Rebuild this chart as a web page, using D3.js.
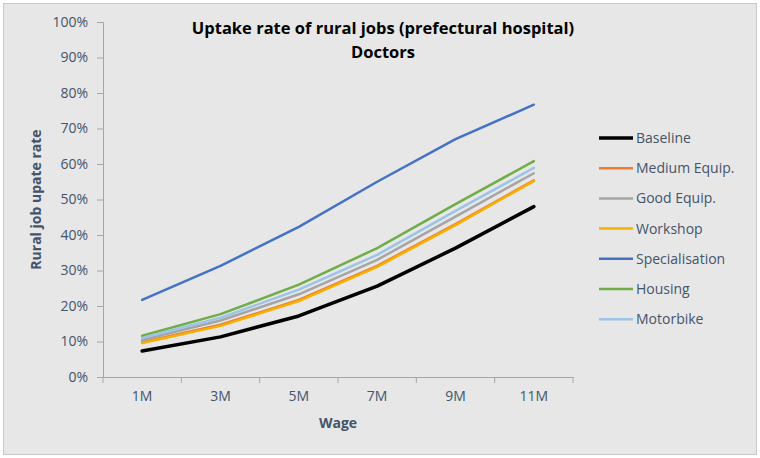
<!DOCTYPE html>
<html>
<head>
<meta charset="utf-8">
<script src="https://cdn.jsdelivr.net/npm/d3@7"></script>
<style>
  body { margin: 0; background: #fff; }
  text { font-family: "Open Sans", "Noto Sans", sans-serif; }
</style>
</head>
<body>
<svg id="chart" width="760" height="458"></svg>
<script>
// wage levels along x
const wages = ["1M", "3M", "5M", "7M", "9M", "11M"];

// uptake rates (%)
const baseline       = [7.3, 11.3, 17.2, 25.6, 36.3, 48.0];
const mediumEquip    = [9.8, 14.7, 21.7, 31.3, 43.1, 55.4];
const goodEquip      = [10.4, 15.9, 23.3, 33.0, 45.2, 57.4];
const workshop       = [9.6, 14.4, 21.4, 31.0, 42.8, 55.2];
const specialisation = [21.7, 31.3, 42.3, 55.0, 67.0, 76.7];
const housing        = [11.6, 17.7, 26.0, 36.3, 48.7, 60.8];
const motorbike      = [11.0, 16.7, 24.6, 34.4, 46.8, 58.9];

const yTicks = [0, 10, 20, 30, 40, 50, 60, 70, 80, 90, 100];

const series = [
  { name: "Baseline",       values: baseline,       color: "#000000", w: 3.5 },
  { name: "Medium Equip.",  values: mediumEquip,    color: "#ED7D31", w: 2.5 },
  { name: "Good Equip.",    values: goodEquip,      color: "#A5A5A5", w: 2.5 },
  { name: "Workshop",       values: workshop,       color: "#F5B000", w: 2.5 },
  { name: "Specialisation", values: specialisation, color: "#4472C4", w: 2.5 },
  { name: "Housing",        values: housing,        color: "#70AD47", w: 2.5 },
  { name: "Motorbike",      values: motorbike,      color: "#9DC3E6", w: 2.5 }
];

const svg = d3.select("#chart");
const labelColor = "#44546A";

// chart background + border
svg.append("rect")
  .attr("x", 3.5).attr("y", 3.5)
  .attr("width", 753).attr("height", 451)
  .attr("fill", "#E7E7E7")
  .attr("stroke", "#C8C8C8");

const plot = { left: 103, right: 573, top: 22, bottom: 377 };

const x = d3.scaleBand().domain(wages).range([plot.left, plot.right]);
const y = d3.scaleLinear().domain([0, 100]).range([plot.bottom, plot.top]);

// y axis
const yAxis = svg.append("g")
  .attr("transform", `translate(${plot.left},0)`)
  .call(d3.axisLeft(y).tickValues(yTicks).tickFormat(d => d + "%").tickSize(6).tickPadding(9));
yAxis.select(".domain").attr("stroke", "#A6A6A6");
yAxis.selectAll(".tick line").attr("stroke", "#A6A6A6");
yAxis.selectAll(".tick text")
  .attr("fill", labelColor)
  .style("font-size", "14px");

// x axis
const xAxis = svg.append("g")
  .attr("transform", `translate(0,${plot.bottom})`)
  .call(d3.axisBottom(x).tickSize(0).tickPadding(14));
xAxis.select(".domain").attr("stroke", "#A6A6A6");
xAxis.selectAll(".tick text")
  .attr("fill", labelColor)
  .style("font-size", "14px");
// ticks at band boundaries
xAxis.selectAll(".bound")
  .data(wages.concat(["end"]))
  .enter()
  .append("line")
  .attr("x1", (d, i) => i < wages.length ? x(d) : x.range()[1])
  .attr("x2", (d, i) => i < wages.length ? x(d) : x.range()[1])
  .attr("y1", 0).attr("y2", 6)
  .attr("stroke", "#A6A6A6");

// lines
const line = d3.line()
  .x((d, i) => x(wages[i]) + x.bandwidth() / 2)
  .y(d => y(d));

svg.append("g")
  .selectAll("path")
  .data(series)
  .enter()
  .append("path")
  .attr("d", d => line(d.values))
  .attr("fill", "none")
  .attr("stroke", d => d.color)
  .attr("stroke-width", d => d.w)
  .attr("stroke-linejoin", "round")
  .attr("stroke-linecap", "round");

// title
const title = svg.append("text")
  .attr("x", 383).attr("y", 34)
  .attr("text-anchor", "middle")
  .attr("fill", "#000")
  .style("font-size", "16.5px")
  .style("font-weight", "bold");
title.append("tspan").attr("x", 383).text("Uptake rate of rural jobs (prefectural hospital)");
title.append("tspan").attr("x", 383).attr("dy", 24).text("Doctors");

// axis titles
svg.append("text")
  .attr("transform", `translate(41,${(plot.top + plot.bottom) / 2}) rotate(-90)`)
  .attr("text-anchor", "middle")
  .attr("fill", labelColor)
  .style("font-size", "14px")
  .style("font-weight", "bold")
  .text("Rural job upate rate");

svg.append("text")
  .attr("x", (plot.left + plot.right) / 2)
  .attr("y", 428)
  .attr("text-anchor", "middle")
  .attr("fill", labelColor)
  .style("font-size", "14px")
  .style("font-weight", "bold")
  .text("Wage");

// legend
const legend = svg.append("g")
  .selectAll("g")
  .data(series)
  .enter()
  .append("g")
  .attr("transform", (d, i) => `translate(599,${138 + i * 30.2})`);

legend.append("line")
  .attr("x1", 0).attr("x2", 34)
  .attr("stroke", d => d.color)
  .attr("stroke-width", d => d.w);

legend.append("text")
  .attr("x", 37).attr("dy", "0.35em")
  .attr("fill", labelColor)
  .style("font-size", "14px")
  .text(d => d.name);
</script>
</body>
</html>
